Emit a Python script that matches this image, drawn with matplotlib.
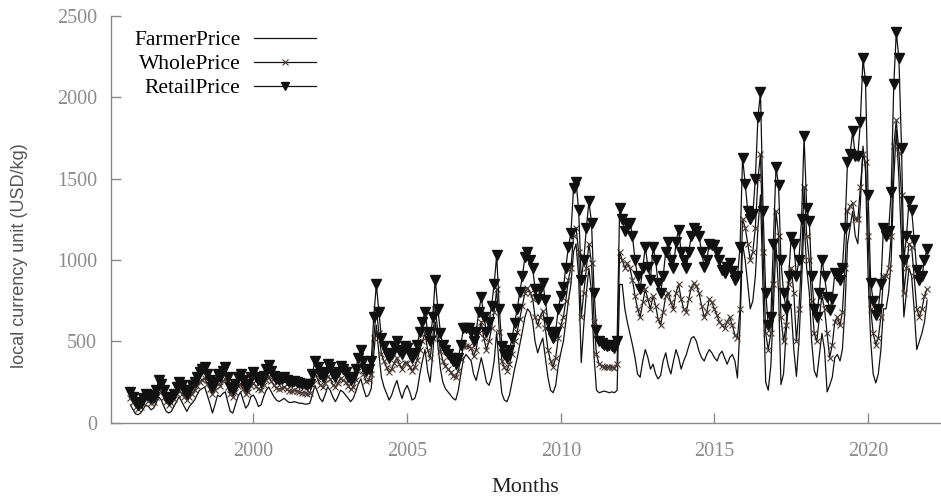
import numpy as np
import pandas as pd
import matplotlib
matplotlib.use('Agg')
import matplotlib.pyplot as plt
import matplotlib.dates as mdates

# Monthly prices, Jan 1996 - Dec 2021 (one line per year)
retail_price = [
    190, 160, 130, 110, 120, 150, 180, 170, 150, 160, 200, 260,      # 1996
    240, 200, 160, 140, 150, 180, 220, 250, 230, 200, 180, 200,      # 1997
    230, 250, 280, 310, 330, 345, 300, 260, 220, 250, 300, 280,      # 1998
    320, 340, 280, 220, 200, 240, 280, 300, 260, 220, 240, 280,      # 1999
    310, 280, 260, 250, 290, 330, 355, 320, 290, 270, 260, 270,      # 2000
    280, 260, 250, 250, 255, 250, 245, 240, 240, 235, 240, 300,      # 2001
    380, 340, 300, 280, 310, 360, 340, 300, 280, 310, 350, 330,      # 2002
    310, 280, 260, 280, 330, 400, 450, 380, 320, 330, 380, 650,      # 2003
    850, 680, 520, 470, 430, 400, 420, 470, 500, 450, 420, 470,      # 2004
    460, 420, 400, 430, 480, 560, 620, 680, 560, 500, 650, 880,      # 2005
    700, 550, 480, 450, 420, 400, 380, 360, 400, 480, 580, 580,      # 2006
    580, 560, 500, 560, 680, 775, 650, 560, 620, 720, 850, 1030,     # 2007
    700, 470, 420, 400, 450, 520, 615, 700, 805, 900, 1020, 1050,    # 2008
    1000, 950, 820, 760, 820, 860, 755, 620, 560, 520, 560, 700,     # 2009
    780, 835, 950, 1080, 1165, 1440, 1480, 1310, 880, 1000, 1200, 1360,  # 2010
    1230, 800, 570, 500, 490, 480, 470, 480, 470, 460, 500, 1320,    # 2011
    1250, 1180, 1220, 1230, 1150, 1000, 900, 820, 950, 1080, 960, 880,   # 2012
    1080, 1000, 860, 800, 900, 1050, 1110, 1000, 950, 1110, 1185, 1050,  # 2013
    1000, 950, 1050, 1150, 1200, 1180, 1150, 1050, 960, 1000, 1100, 1090,  # 2014
    1090, 1050, 1000, 940, 920, 960, 980, 930, 880, 900, 1080, 1630,     # 2015
    1470, 1300, 1250, 1280, 1500, 1880, 2030, 1300, 800, 600, 650, 1100,  # 2016
    1570, 1460, 1000, 800, 700, 900, 1140, 1100, 900, 1000, 1250, 1760,  # 2017
    1320, 1240, 900, 700, 650, 800, 1000, 900, 775, 695, 760, 920,       # 2018
    900, 880, 950, 1200, 1600, 1650, 1790, 1640, 1640, 1850, 2240, 2100,  # 2019
    1400, 860, 750, 665, 700, 850, 1200, 1150, 1180, 1420, 2080, 2400,   # 2020
    2240, 1690, 1000, 1150, 1360, 1310, 1125, 940, 880, 900, 1000, 1070,  # 2021
]

wholesale_price = [
    150, 125, 100, 85, 95, 120, 145, 135, 120, 125, 160, 205,        # 1996
    190, 160, 125, 110, 120, 145, 175, 200, 180, 160, 140, 160,      # 1997
    180, 200, 225, 250, 265, 275, 240, 205, 175, 200, 240, 225,      # 1998
    255, 270, 220, 175, 160, 190, 225, 240, 205, 175, 190, 225,      # 1999
    245, 225, 205, 200, 230, 265, 285, 255, 230, 215, 205, 215,      # 2000
    220, 205, 195, 195, 200, 195, 190, 185, 185, 180, 185, 235,      # 2001
    300, 270, 235, 220, 245, 285, 270, 235, 220, 245, 275, 260,      # 2002
    250, 225, 205, 220, 260, 320, 360, 300, 255, 260, 300, 520,      # 2003
    700, 550, 420, 380, 340, 310, 330, 370, 400, 360, 330, 370,      # 2004
    370, 340, 320, 345, 385, 450, 500, 550, 450, 400, 520, 700,      # 2005
    560, 440, 380, 350, 330, 310, 290, 280, 320, 390, 470, 470,      # 2006
    470, 460, 410, 450, 550, 620, 520, 450, 500, 580, 680, 820,      # 2007
    560, 380, 340, 320, 360, 420, 500, 560, 640, 720, 800, 830,      # 2008
    800, 760, 650, 600, 650, 690, 580, 450, 380, 345, 400, 520,      # 2009
    600, 650, 750, 880, 950, 1150, 1200, 1050, 650, 800, 950, 1100,  # 2010
    980, 620, 420, 360, 350, 345, 340, 345, 340, 335, 360, 1050,     # 2011
    1000, 950, 980, 950, 880, 780, 700, 650, 740, 820, 760, 700,     # 2012
    780, 720, 640, 600, 680, 780, 800, 740, 700, 800, 850, 760,      # 2013
    700, 680, 760, 830, 860, 840, 800, 720, 650, 680, 760, 740,      # 2014
    700, 660, 620, 600, 580, 620, 650, 600, 540, 520, 700, 1250,     # 2015
    1200, 1100, 1000, 1050, 1200, 1500, 1650, 1050, 550, 450, 550, 850,  # 2016
    1300, 1150, 650, 500, 600, 850, 950, 800, 500, 700, 1000, 1450,  # 2017
    1150, 1000, 750, 550, 500, 650, 780, 700, 550, 400, 480, 620,    # 2018
    650, 600, 680, 950, 1300, 1330, 1350, 1250, 1250, 1450, 1650, 1600,  # 2019
    1150, 700, 550, 480, 520, 650, 900, 900, 950, 1150, 1700, 1860,  # 2020
    1660, 1400, 800, 950, 1100, 1080, 900, 700, 650, 700, 780, 820,  # 2021
]

farmer_price = [
    110, 80, 55, 50, 60, 85, 110, 100, 80, 90, 120, 160,             # 1996
    140, 100, 70, 60, 70, 100, 130, 160, 130, 100, 70, 100,          # 1997
    120, 140, 170, 200, 210, 220, 170, 120, 60, 110, 170, 160,       # 1998
    180, 190, 130, 70, 60, 110, 160, 190, 140, 90, 110, 160,         # 1999
    170, 140, 100, 110, 160, 200, 220, 190, 160, 140, 130, 140,      # 2000
    150, 135, 125, 125, 130, 125, 120, 120, 115, 115, 120, 170,      # 2001
    230, 190, 150, 130, 170, 220, 200, 160, 130, 160, 200, 190,      # 2002
    170, 150, 130, 150, 190, 240, 270, 210, 160, 170, 210, 420,      # 2003
    600, 420, 280, 220, 180, 140, 170, 220, 260, 200, 150, 200,      # 2004
    230, 190, 140, 150, 200, 300, 380, 450, 320, 250, 420, 620,      # 2005
    480, 330, 250, 210, 190, 170, 150, 140, 200, 300, 390, 420,      # 2006
    400, 380, 300, 260, 330, 400, 330, 250, 230, 280, 380, 560,      # 2007
    330, 180, 140, 130, 170, 250, 330, 400, 480, 560, 650, 700,      # 2008
    680, 620, 500, 430, 480, 520, 400, 280, 200, 185, 230, 350,      # 2009
    430, 500, 620, 750, 850, 1050, 1100, 900, 370, 600, 800, 950,    # 2010
    800, 400, 200, 185, 190, 195, 190, 185, 190, 185, 200, 850,      # 2011
    850, 700, 620, 550, 480, 400, 300, 280, 380, 450, 400, 330,      # 2012
    360, 300, 270, 290, 380, 430, 350, 300, 380, 450, 400, 330,      # 2013
    380, 420, 470, 520, 530, 500, 440, 400, 380, 420, 450, 430,      # 2014
    400, 380, 420, 440, 400, 360, 400, 420, 380, 275, 600, 1100,     # 2015
    1000, 850, 700, 750, 900, 1200, 1400, 800, 250, 200, 350, 700,   # 2016
    1100, 800, 235, 300, 550, 750, 700, 450, 285, 500, 850, 1250,    # 2017
    950, 800, 500, 320, 280, 420, 550, 450, 190, 230, 280, 400,      # 2018
    420, 380, 450, 700, 1100, 1200, 1300, 1150, 1100, 1350, 1700, 1550,  # 2019
    900, 500, 300, 245, 300, 450, 700, 700, 800, 1000, 1500, 1800,   # 2020
    1500, 1100, 650, 800, 950, 900, 700, 450, 500, 550, 620, 750,    # 2021
]

months = pd.date_range('1996-01-01', periods=len(retail_price), freq='MS')

plt.rcParams['font.family'] = ['Liberation Serif', 'DejaVu Serif']

fig = plt.figure(figsize=(9.41, 4.98), dpi=100)
ax = fig.add_axes([0.118, 0.151, 0.881, 0.817])

ax.plot(months, farmer_price, color='#111111', lw=0.9, label='FarmerPrice')
ax.plot(months, wholesale_price, color='#111111', lw=0.9, marker='x', ms=4.5,
        mew=0.8, mec='#4a3a34', label='WholePrice')
ax.plot(months, retail_price, color='#111111', lw=0.9, marker='v', ms=6.5,
        mfc='#111111', mec='#111111', label='RetailPrice')

ax.set_xlim(pd.Timestamp('1995-05-15'), pd.Timestamp('2022-05-05'))
ax.set_ylim(0, 2500)
ax.set_yticks([0, 500, 1000, 1500, 2000, 2500])
ax.xaxis.set_major_locator(mdates.YearLocator(5))
ax.xaxis.set_major_formatter(mdates.DateFormatter('%Y'))

for side in ['top', 'right']:
    ax.spines[side].set_visible(False)
for side in ['left', 'bottom']:
    ax.spines[side].set_color('#8a8a8a')
    ax.spines[side].set_linewidth(1.0)
ax.tick_params(direction='in', length=7, width=1.0, color='#8a8a8a',
               labelcolor='#8c8c8c', labelsize=14.5)
ax.tick_params(axis='x', pad=14)
ax.tick_params(axis='y', pad=10)

ax.set_xlabel('Months', fontsize=16, color='#222222', labelpad=12)
ax.set_ylabel('local currency unit (USD/kg)', fontsize=13, color='#555555',
              family='Liberation Sans')
ax.yaxis.set_label_coords(-0.1, 0.41)

ax.legend(loc='upper left', bbox_to_anchor=(0.028, 0.965), frameon=False,
          markerfirst=False, fontsize=15.5, handlelength=2.85, handletextpad=0.65,
          labelspacing=0.18, borderpad=0, borderaxespad=0, markerscale=0.9)

fig.savefig('out.png', dpi=100, facecolor='white')
